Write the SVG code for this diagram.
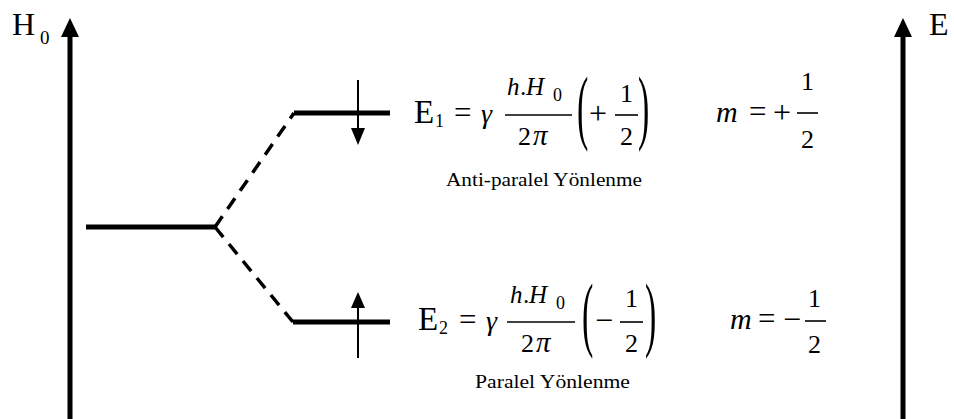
<svg xmlns="http://www.w3.org/2000/svg" width="954" height="419" viewBox="0 0 954 419" font-family="'Liberation Serif', 'DejaVu Serif', serif">
<style>
text{font-family:'Liberation Serif','DejaVu Serif',serif;fill:#000}
.i{font-style:italic}
.ax{stroke:#000;stroke-width:5;fill:none}
.lv{stroke:#000;stroke-width:5;fill:none}
.dash{stroke:#000;stroke-width:3.5;fill:none;stroke-dasharray:13 9}
.spin{stroke:#000;stroke-width:2;fill:none}
.bar{stroke:#000;stroke-width:1.6}
</style>
<rect width="954" height="419" fill="#fff"/>
<g id="axis-left">
<line class="ax" x1="70" y1="419" x2="70" y2="33"/>
<polygon points="70,18 61,37 79,37" fill="#000"/>
<text x="12" y="35" font-size="32">H</text>
<text x="40" y="44" font-size="19">0</text>
</g>
<g id="axis-right">
<line class="ax" x1="903" y1="419" x2="903" y2="33"/>
<polygon points="903,18 894,37 912,37" fill="#000"/>
<text x="929" y="35" font-size="32">E</text>
</g>
<g id="level-ground">
<line class="lv" x1="86" y1="227" x2="215" y2="227"/>
</g>
<g id="level-upper">
<line class="lv" x1="294" y1="113" x2="390" y2="113"/>
</g>
<g id="level-lower">
<line class="lv" x1="293" y1="322" x2="390" y2="322"/>
</g>
<g id="connectors">
<path class="dash" d="M215,227 L294,113"/>
<path class="dash" d="M215,227 L293,322"/>
</g>
<g id="spin-down">
<line class="spin" x1="358" y1="80" x2="358" y2="130"/>
<polygon points="351,128 365,128 358,145" fill="#000"/>
</g>
<g id="spin-up">
<line class="spin" x1="358" y1="305" x2="358" y2="358"/>
<polygon points="358,292 351,308 365,308" fill="#000"/>
</g>
<g id="eq-E1">
<text x="414" y="123" font-size="33">E</text>
<text x="435" y="127" font-size="18">1</text>
<text x="454" y="123" font-size="31">=</text>
<text class="i" x="481" y="123" font-size="28">γ</text>
<text class="i" x="507" y="95" font-size="25">h</text>
<text x="520" y="95" font-size="25">.</text>
<text class="i" x="526" y="95" font-size="25">H</text>
<text x="553" y="101" font-size="18">0</text>
<line class="bar" x1="505" y1="115" x2="572" y2="115"/>
<text x="518" y="145" font-size="26">2</text>
<text class="i" x="533" y="145" font-size="29">π</text>
<text transform="translate(577,115) scale(1,2.4)" x="0" y="8" font-size="34">(</text>
<text x="589" y="124" font-size="32">+</text>
<text x="620" y="102" font-size="26">1</text>
<line class="bar" x1="615" y1="115" x2="638" y2="115"/>
<text x="620" y="145" font-size="26">2</text>
<text transform="translate(638,115) scale(1,2.4)" x="0" y="8" font-size="34">)</text>
<text x="446" y="186" font-size="18" textLength="196" lengthAdjust="spacingAndGlyphs">Anti-paralel Yönlenme</text>
</g>
<g id="eq-E2">
<text x="418" y="330" font-size="33">E</text>
<text x="439" y="334" font-size="18">2</text>
<text x="459" y="330" font-size="31">=</text>
<text class="i" x="486" y="330" font-size="28">γ</text>
<text class="i" x="510" y="303" font-size="25">h</text>
<text x="523" y="303" font-size="25">.</text>
<text class="i" x="529" y="303" font-size="25">H</text>
<text x="556" y="309" font-size="18">0</text>
<line class="bar" x1="507" y1="322" x2="575" y2="322"/>
<text x="521" y="352" font-size="26">2</text>
<text class="i" x="536" y="352" font-size="29">π</text>
<text transform="translate(582,322) scale(1,2.4)" x="0" y="8" font-size="34">(</text>
<text x="595" y="331" font-size="32">−</text>
<text x="625" y="307" font-size="26">1</text>
<line class="bar" x1="620" y1="322" x2="643" y2="322"/>
<text x="625" y="352" font-size="26">2</text>
<text transform="translate(645,322) scale(1,2.4)" x="0" y="8" font-size="34">)</text>
<text x="475" y="388" font-size="18" textLength="155" lengthAdjust="spacingAndGlyphs">Paralel Yönlenme</text>
</g>
<g id="m-upper">
<text class="i" x="716" y="122" font-size="30">m</text>
<text x="749" y="122" font-size="31">=</text>
<text x="773" y="123" font-size="32">+</text>
<text x="801" y="90" font-size="26">1</text>
<line class="bar" x1="797" y1="113" x2="818" y2="113"/>
<text x="801" y="148" font-size="26">2</text>
</g>
<g id="m-lower">
<text class="i" x="730" y="329" font-size="30">m</text>
<text x="758" y="329" font-size="31">=</text>
<text x="783" y="330" font-size="32">−</text>
<text x="808" y="307" font-size="26">1</text>
<line class="bar" x1="805" y1="321" x2="826" y2="321"/>
<text x="808" y="353" font-size="26">2</text>
</g>
</svg>
